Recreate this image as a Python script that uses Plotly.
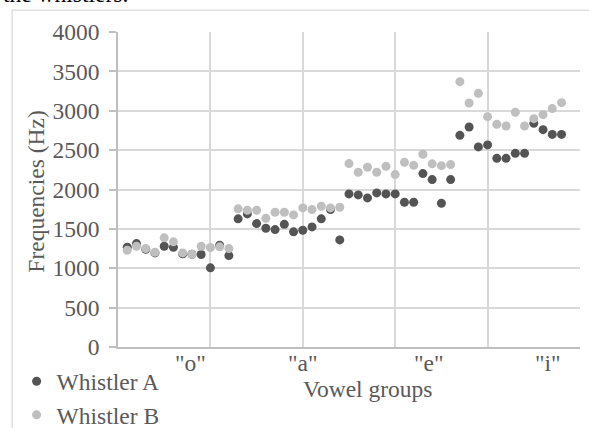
import plotly.graph_objects as go

x_index = list(range(1, 49))
whistler_a = [1267, 1313, 1240, 1195, 1279, 1267, 1183, 1178, 1174, 1005, 1292, 1161,
              1627, 1690, 1567, 1508, 1491, 1558, 1462, 1482, 1525, 1627, 1745, 1360,
              1944, 1931, 1893, 1957, 1944, 1944, 1838, 1838, 2202, 2126, 1825, 2126,
              2688, 2794, 2541, 2566, 2396, 2396, 2459, 2459, 2840, 2760, 2700, 2700]
whistler_b = [1228, 1279, 1250, 1203, 1386, 1335, 1195, 1178, 1279, 1263, 1272, 1250,
              1754, 1736, 1736, 1635, 1711, 1711, 1677, 1766, 1745, 1787, 1766, 1774,
              2329, 2219, 2282, 2219, 2294, 2189, 2345, 2307, 2447, 2326, 2303, 2316,
              3369, 3099, 3221, 2925, 2827, 2807, 2980, 2807, 2900, 2950, 3027, 3103]
group_labels = ['"o"', '"a"', '"e"', '"i"']
group_label_x = [7.8, 20.0, 33.7, 46.5]

FONT = "Liberation Serif"
TXT = "#595959"
FS = 23.5

# plot-area geometry in pixels (used only to place titles/frame in paper coords)
L, T, W, H = 117.5, 32.3, 462.5, 315.2
def px(xp):
    return (xp - L) / W
def py(yp):
    return (T + H - yp) / H

fig = go.Figure()
fig.add_trace(go.Scatter(x=x_index, y=whistler_a, mode="markers", name="Whistler A",
                         marker=dict(size=9, color="#545454", line=dict(width=0))))
fig.add_trace(go.Scatter(x=x_index, y=whistler_b, mode="markers", name="Whistler B",
                         marker=dict(size=9, color="#bfbfbf", line=dict(width=0))))

for lab, gx in zip(group_labels, group_label_x):
    fig.add_annotation(x=gx, y=py(364), xref="x", yref="paper", text=lab, showarrow=False,
                       xanchor="center", yanchor="middle",
                       font=dict(family=FONT, size=FS, color=TXT))

fig.add_annotation(x=px(367.5), y=py(390), xref="paper", yref="paper", text="Vowel groups",
                   showarrow=False, xanchor="center", yanchor="middle",
                   font=dict(family=FONT, size=FS, color=TXT))
fig.add_annotation(x=px(36), y=py(192.5), xref="paper", yref="paper",
                   text="Frequencies (Hz)", textangle=-90, showarrow=False,
                   xanchor="center", yanchor="middle",
                   font=dict(family=FONT, size=FS, color=TXT))
fig.add_annotation(x=px(0), y=py(-5.5), xref="paper", yref="paper", text="the whistlers.",
                   showarrow=False, xanchor="left", yanchor="middle",
                   font=dict(family=FONT, size=FS, color="#000000"))

fig.add_shape(type="rect", xref="paper", yref="paper",
              x0=px(11.5), x1=px(620), y0=py(460), y1=py(10.5),
              line=dict(color="#d9d9d9", width=1.3), fillcolor="rgba(0,0,0,0)", layer="below")

fig.update_layout(
    width=589, height=428,
    margin=dict(l=L, r=589 - L - W, t=T, b=428 - T - H, autoexpand=False),
    paper_bgcolor="white", plot_bgcolor="white",
    showlegend=True,
    legend=dict(x=px(16), y=py(360), xanchor="left", yanchor="top", orientation="v",
                font=dict(family=FONT, size=FS, color=TXT), tracegroupgap=0,
                itemwidth=30, bgcolor="rgba(0,0,0,0)"),
    xaxis=dict(range=[0, 50], dtick=10, tick0=0, showticklabels=False, showgrid=True,
               gridcolor="#d9d9d9", gridwidth=1.5, zeroline=False, showline=True,
               linecolor="#bfbfbf", linewidth=1.5, ticks=""),
    yaxis=dict(range=[0, 4000], dtick=500, showgrid=True, gridcolor="#d9d9d9", gridwidth=1.5,
               zeroline=False, showline=True, linecolor="#bfbfbf", linewidth=1.5,
               ticks="outside", ticklen=7, tickcolor="#bfbfbf", tickwidth=1.5,
               ticklabelstandoff=5,
               tickfont=dict(family=FONT, size=FS, color=TXT)),
)

fig.write_html("out.html", config={"displayModeBar": False},
               post_script="document.body.style.margin='0';")
